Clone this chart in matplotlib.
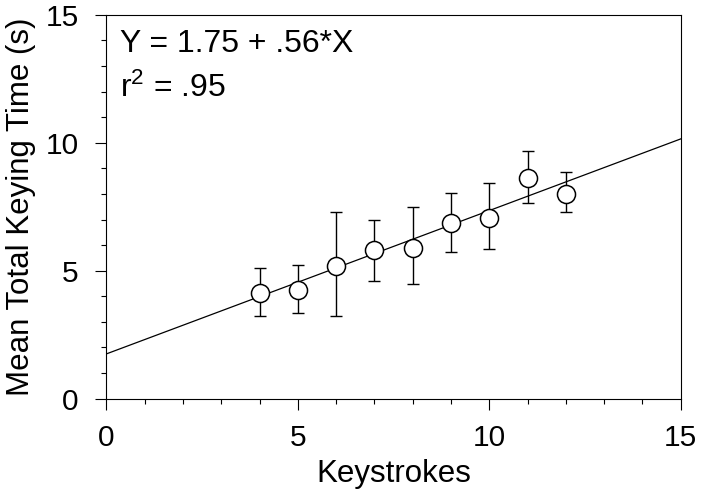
import numpy as np
import matplotlib; matplotlib.use("Agg")
import matplotlib.pyplot as plt
from matplotlib.ticker import MultipleLocator

plt.rcParams["font.family"] = ["Liberation Sans", "DejaVu Sans"]
plt.rcParams["mathtext.fontset"] = "custom"
plt.rcParams["mathtext.rm"] = "Liberation Sans"

# ---- data ----
keystrokes = [4, 5, 6, 7, 8, 9, 10, 11, 12]
mean_time = [4.12, 4.25, 5.18, 5.81, 5.90, 6.85, 7.05, 8.61, 8.00]
err_top = [5.12, 5.21, 7.30, 6.98, 7.50, 8.02, 8.44, 9.69, 8.86]
err_bot = [3.24, 3.35, 3.24, 4.58, 4.48, 5.74, 5.85, 7.63, 7.30]
intercept, slope = 1.75, 0.56

x = np.array(keystrokes); y = np.array(mean_time)
yerr = [y - np.array(err_bot), np.array(err_top) - y]

fig = plt.figure(figsize=(7.05, 4.94), dpi=100)
ax = fig.add_axes([0.151, 0.193, 0.8145, 0.777])

xs = np.array([0, 15])
ax.plot(xs, intercept + slope*xs, color="black", lw=0.9, zorder=2)
ax.errorbar(x, y, yerr=yerr, fmt="none", ecolor="black", elinewidth=1.0,
            capsize=4, capthick=1.0, zorder=3)
ax.plot(x, y, "o", ms=13, mfc="white", mec="black", mew=1.1, zorder=4)

ax.set_xlim(0, 15); ax.set_ylim(0, 15)
ax.xaxis.set_major_locator(MultipleLocator(5)); ax.xaxis.set_minor_locator(MultipleLocator(1))
ax.yaxis.set_major_locator(MultipleLocator(5)); ax.yaxis.set_minor_locator(MultipleLocator(1))
ax.tick_params(which="major", direction="out", length=8, width=0.8, labelsize=21.5, pad=10)
ax.tick_params(axis="y", which="major", pad=12)
ax.tick_params(which="minor", direction="out", length=3.5, width=0.8)
for s in ax.spines.values():
    s.set_linewidth(0.8)

ax.set_xlabel("Keystrokes", fontsize=22.5, labelpad=5)
ax.set_ylabel("Mean Total Keying Time (s)", fontsize=22.5, labelpad=7)

ax.text(0.36, 13.54, "Y = 1.75 + .56*X", fontsize=23, va="baseline")
ax.text(0.36, 11.8, r"r$\mathregular{^2}$ = .95", fontsize=23, va="baseline")

fig.savefig("out.png", dpi=100)
